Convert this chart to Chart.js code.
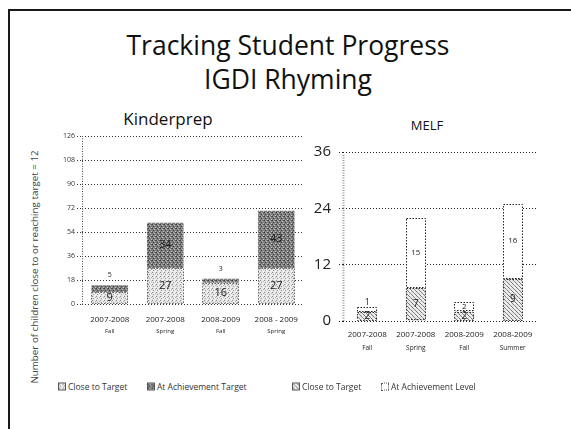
<!DOCTYPE html>
<html>
<head>
<meta charset="utf-8">
<script src="https://cdn.jsdelivr.net/npm/chart.js@4"></script>
<style>
  body { margin: 0; width: 571px; height: 429px; background: #fff; position: relative; overflow: hidden;
         font-family: "Open Sans", sans-serif; color: #222; }
  .frame { position: absolute; left: 8px; top: 9px; width: 570px; height: 430px;
           border-left: 2px solid #1a1a1a; border-top: 2px solid #1a1a1a; }
  .t { position: absolute; white-space: nowrap; transform: translate(-50%, -50%); }
  .title { font-size: 26.5px; color: #111; }
  .leg { position: absolute; top: 386px; font-size: 8.5px; color: #333; white-space: nowrap; transform: translateY(-50%); }
  .sw { display: inline-block; width: 6px; height: 6px; border: 1px solid #555; margin-right: 2px; vertical-align: -1px; }
  canvas { position: absolute; }
</style>
</head>
<body>
<div class="frame"></div>
<div class="t title" style="left:288px;top:45px">Tracking Student Progress</div>
<div class="t title" style="left:288px;top:79px">IGDI Rhyming</div>
<div class="t" style="left:168px;top:118px;font-size:17px;font-weight:500;color:#111">Kinderprep</div>
<div class="t" style="left:427px;top:125px;font-size:13px;color:#111">MELF</div>
<div class="t" style="left:34px;top:267px;font-size:9.8px;color:#444;transform:translate(-50%,-50%) rotate(-90deg)">Number of children close to or reaching target = 12</div>

<canvas id="kinderprepChart" width="270" height="215" style="left:40px;top:128px"></canvas>
<canvas id="melfChart" width="250" height="235" style="left:300px;top:135px"></canvas>

<div class="leg" style="left:58px"><span class="sw" id="sw1"></span>Close to Target</div>
<div class="leg" style="left:147px"><span class="sw" id="sw2"></span>At Achievement Target</div>
<div class="leg" style="left:292px"><span class="sw" id="sw3"></span>Close to Target</div>
<div class="leg" style="left:381px"><span class="sw" id="sw4" style="border-style:dotted"></span>At Achievement Level</div>

<script>
// Kinderprep data
const kpYears = ['2007-2008', '2007-2008', '2008-2009', '2008 - 2009'];
const kpTerms = ['Fall', 'Spring', 'Fall', 'Spring'];
const kpCloseToTarget = [9, 27, 16, 27];
const kpAtTarget = [5, 34, 3, 43];

// MELF data
const melfYears = ['2007-2008', '2007-2008', '2008-2009', '2008-2009'];
const melfTerms = ['Fall', 'Spring', 'Fall', 'Summer'];
const melfCloseToTarget = [2, 7, 2, 9];
const melfAtLevel = [1, 15, 2, 16];

// small tiles to fake the scanned stipple / hatch fills
function makeTile(size, bg, dots) {
    const c = document.createElement('canvas');
    c.width = c.height = size;
    const g = c.getContext('2d');
    g.fillStyle = bg;
    g.fillRect(0, 0, size, size);
    dots.forEach(function(d) {
        g.fillStyle = d[2];
        g.fillRect(d[0], d[1], 1, 1);
    });
    return c;
}

const lightTile = makeTile(4, '#e4e4e4', [[0,0,'#8c8c8c'],[2,1,'#ffffff'],[1,2,'#a0a0a0'],[3,3,'#ffffff'],[3,1,'#b5b5b5']]);
const darkTile = makeTile(4, '#7c7c7c', [[0,0,'#3a3a3a'],[2,1,'#b8b8b8'],[1,2,'#4a4a4a'],[3,3,'#c4c4c4'],[3,0,'#5a5a5a'],[1,0,'#a8a8a8']]);
const hatchTile = makeTile(4, '#e8e8e8', [[0,0,'#7a7a7a'],[1,1,'#7a7a7a'],[2,2,'#9a9a9a'],[3,3,'#7a7a7a'],[2,0,'#ffffff']]);

const tmp = document.createElement('canvas').getContext('2d');
const lightFill = tmp.createPattern(lightTile, 'repeat');
const darkFill = tmp.createPattern(darkTile, 'repeat');
const hatchFill = tmp.createPattern(hatchTile, 'repeat');

document.getElementById('sw1').style.background = 'url(' + lightTile.toDataURL() + ')';
document.getElementById('sw2').style.background = 'url(' + darkTile.toDataURL() + ')';
document.getElementById('sw3').style.background = 'url(' + hatchTile.toDataURL() + ')';
document.getElementById('sw4').style.background = '#fff';

// dotted outline round a bar segment
const dottedBars = {
    id: 'dottedBars',
    afterDatasetsDraw(chart) {
        const ctx = chart.ctx;
        chart.data.datasets.forEach(function(ds, di) {
            if (!ds.dotColor) return;
            chart.getDatasetMeta(di).data.forEach(function(bar) {
                const p = bar.getProps(['x', 'y', 'base', 'width'], true);
                ctx.save();
                ctx.setLineDash([1.5, 1.5]);
                ctx.strokeStyle = ds.dotColor;
                ctx.lineWidth = 1;
                ctx.strokeRect(Math.round(p.x - p.width / 2) + 0.5, Math.round(p.y) + 0.5,
                               Math.round(p.width) - 1, Math.round(p.base - p.y) - 1);
                ctx.restore();
            });
        });
    }
};

// value labels, inside the segment or just above when it is too thin
const segLabels = {
    id: 'segLabels',
    afterDatasetsDraw(chart, args, opts) {
        const ctx = chart.ctx;
        chart.data.datasets.forEach(function(ds, di) {
            chart.getDatasetMeta(di).data.forEach(function(bar, i) {
                const p = bar.getProps(['x', 'y', 'base'], true);
                const h = Math.abs(p.base - p.y);
                ctx.save();
                ctx.fillStyle = '#222';
                ctx.textAlign = 'center';
                ctx.textBaseline = 'middle';
                if (h < opts.minInside) {
                    ctx.font = opts.smallFont;
                    ctx.fillText(ds.data[i], p.x, p.y - opts.above);
                } else {
                    ctx.font = ds.labelFont;
                    ctx.fillText(ds.data[i], p.x, (p.y + p.base) / 2);
                }
                ctx.restore();
            });
        });
    }
};

// two line category labels with a smaller second line
const catLabels = {
    id: 'catLabels',
    afterDraw(chart, args, opts) {
        const ctx = chart.ctx;
        const xs = chart.scales.x;
        const bottom = chart.chartArea.bottom;
        ctx.save();
        ctx.fillStyle = '#222';
        ctx.textAlign = 'center';
        ctx.textBaseline = 'middle';
        opts.years.forEach(function(yr, i) {
            const x = xs.getPixelForValue(i);
            ctx.font = opts.font1;
            ctx.fillText(yr, x, bottom + opts.dy1);
            ctx.font = opts.font2;
            ctx.fillText(opts.terms[i], x, bottom + opts.dy2);
        });
        ctx.restore();
    }
};

// dotted value axis line
const axisLine = {
    id: 'axisLine',
    beforeDatasetsDraw(chart, args, opts) {
        const ctx = chart.ctx;
        const a = chart.chartArea;
        ctx.save();
        ctx.setLineDash([1, 1.5]);
        ctx.strokeStyle = opts.color;
        ctx.lineWidth = opts.width;
        ctx.beginPath();
        ctx.moveTo(a.left + 0.5, a.top + opts.topGap);
        ctx.lineTo(a.left + 0.5, a.bottom);
        ctx.stroke();
        ctx.restore();
    }
};

function fixedWidth(w) { return function(scale) { scale.width = w; }; }
function fixedHeight(h) { return function(scale) { scale.height = h; }; }

new Chart(document.getElementById('kinderprepChart'), {
    type: 'bar',
    data: {
        labels: kpTerms,
        datasets: [{
            label: 'Close to Target',
            data: kpCloseToTarget,
            backgroundColor: lightFill,
            borderWidth: 0,
            dotColor: '#666',
            labelFont: '11px "Open Sans"'
        }, {
            label: 'At Achievement Target',
            data: kpAtTarget,
            backgroundColor: darkFill,
            borderWidth: 0,
            labelFont: '11px "Open Sans"'
        }]
    },
    options: {
        responsive: false,
        animation: false,
        layout: { padding: { top: 8, right: 6, left: 0, bottom: 0 } },
        datasets: { bar: { categoryPercentage: 1, barPercentage: 0.66 } },
        scales: {
            x: {
                stacked: true,
                grid: { display: false },
                border: { display: false },
                ticks: { display: false },
                afterFit: fixedHeight(39)
            },
            y: {
                stacked: true,
                min: 0,
                max: 126,
                ticks: { stepSize: 18, font: { size: 7, family: '"Open Sans"' }, color: '#333', padding: 2 },
                grid: { color: '#333', tickLength: 5, tickColor: '#333', tickBorderDash: [1, 2] },
                border: { display: false, dash: [1, 2] },
                afterFit: fixedWidth(42)
            }
        },
        plugins: {
            legend: { display: false },
            tooltip: { enabled: false },
            segLabels: { minInside: 8, above: 10, smallFont: '7px "Open Sans"' },
            catLabels: { years: kpYears, terms: kpTerms, font1: '8px "Open Sans"', font2: '6px "Open Sans"', dy1: 16, dy2: 27 },
            axisLine: { color: '#444', width: 1, topGap: 0 }
        }
    },
    plugins: [axisLine, dottedBars, segLabels, catLabels]
});

new Chart(document.getElementById('melfChart'), {
    type: 'bar',
    data: {
        labels: melfTerms,
        datasets: [{
            label: 'Close to Target',
            data: melfCloseToTarget,
            backgroundColor: hatchFill,
            borderWidth: 0,
            dotColor: '#333',
            labelFont: '10px "Open Sans"'
        }, {
            label: 'At Achievement Level',
            data: melfAtLevel,
            backgroundColor: '#ffffff',
            borderWidth: 0,
            dotColor: '#222',
            labelFont: '8px "Open Sans"'
        }]
    },
    options: {
        responsive: false,
        animation: false,
        layout: { padding: { top: 12, right: 13, left: 0, bottom: 0 } },
        datasets: { bar: { categoryPercentage: 1, barPercentage: 0.41 } },
        scales: {
            x: {
                stacked: true,
                grid: { display: false },
                border: { display: false },
                ticks: { display: false },
                afterFit: fixedHeight(49)
            },
            y: {
                stacked: true,
                min: 0,
                max: 36,
                ticks: { stepSize: 12, font: { size: 15, family: '"Open Sans"' }, color: '#222', padding: 8 },
                grid: { color: '#222', tickLength: 4, tickColor: '#222', tickBorderDash: [1, 2] },
                border: { display: false, dash: [1, 2] },
                afterFit: fixedWidth(43)
            }
        },
        plugins: {
            legend: { display: false },
            tooltip: { enabled: false },
            segLabels: { minInside: 7, above: 4, smallFont: '9px "Open Sans"' },
            catLabels: { years: melfYears, terms: melfTerms, font1: '8px "Open Sans"', font2: '6.5px "Open Sans"', dy1: 14, dy2: 27 },
            axisLine: { color: '#999', width: 2, topGap: 3 }
        }
    },
    plugins: [axisLine, dottedBars, segLabels, catLabels]
});
</script>
</body>
</html>
